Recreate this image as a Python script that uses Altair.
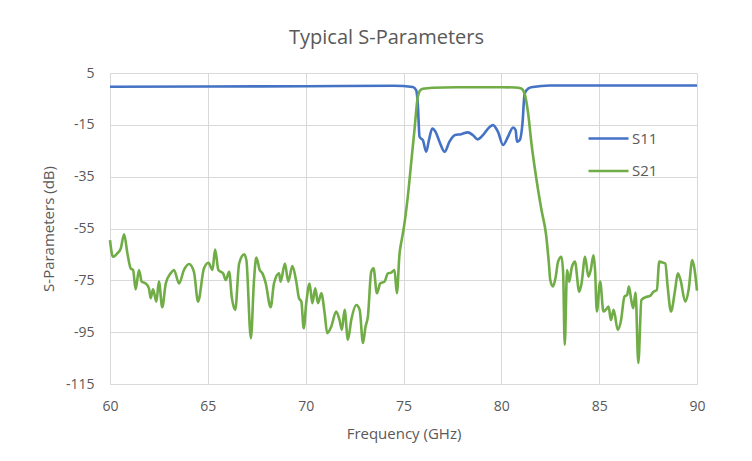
import altair as alt
import pandas as pd

# S21 (GHz, dB)
s21_f = [60.0, 60.15, 60.37, 60.55, 60.72, 60.89, 61.06, 61.18, 61.31, 61.48, 61.62, 61.82, 61.99, 62.08, 62.2,
         62.37, 62.5, 62.67, 62.85, 63.1, 63.27, 63.53, 63.78, 64.04, 64.29, 64.5, 64.8, 65.03, 65.24, 65.37,
         65.54, 65.78, 65.92, 66.09, 66.22, 66.4, 66.6, 66.86, 66.97, 67.2, 67.36, 67.48, 67.65, 67.79, 67.96,
         68.21, 68.38, 68.64, 68.72, 68.94, 69.11, 69.32, 69.52, 69.66, 69.78, 69.9, 70.03, 70.2, 70.34, 70.49,
         70.63, 70.8, 70.97, 71.1, 71.31, 71.56, 71.73, 71.85, 71.99, 72.16, 72.33, 72.59, 72.76, 72.93, 73.06,
         73.18, 73.35, 73.47, 73.64, 73.81, 74.03, 74.2, 74.37, 74.54, 74.66, 74.8, 74.88, 75.0, 75.22, 75.39,
         75.56, 75.73, 75.85, 75.99, 76.5, 77.7, 79.0, 80.0, 80.7, 81.02, 81.19, 81.37, 81.54, 81.8, 82.05,
         82.29, 82.43, 82.5, 82.64, 82.78, 82.9, 83.07, 83.16, 83.24, 83.36, 83.47, 83.59, 83.76, 83.98, 84.1,
         84.28, 84.45, 84.57, 84.71, 84.79, 84.88, 85.05, 85.22, 85.4, 85.48, 85.6, 85.74, 85.95, 86.12, 86.29,
         86.43, 86.52, 86.64, 86.74, 86.86, 87.0, 87.16, 87.38, 87.6, 87.78, 87.95, 88.07, 88.24, 88.38, 88.5,
         88.67, 88.88, 89.02, 89.16, 89.4, 89.57, 89.76, 89.88, 90.0]
s21_db = [-59.5, -65.9, -64.6, -62.7, -57.2, -64.6, -70.4, -71.0, -78.5, -71.0, -75.5, -76.2, -78.1, -81.9, -78.5,
          -83.2, -75.5, -85.4, -76.2, -72.3, -71.0, -76.2, -71.0, -68.7, -71.7, -83.2, -70.4, -68.2, -71.0, -63.1,
          -71.0, -72.3, -74.9, -71.7, -81.3, -86.4, -68.5, -65.0, -67.2, -97.3, -74.9, -66.2, -71.0, -72.3, -76.2,
          -85.4, -76.2, -72.3, -75.5, -68.5, -75.5, -69.5, -75.5, -81.9, -83.2, -93.5, -83.8, -76.2, -83.8, -78.1,
          -83.8, -80.0, -87.7, -95.4, -92.8, -87.0, -90.3, -94.1, -86.4, -97.9, -90.3, -84.5, -86.4, -99.2, -92.8,
          -89.0, -71.7, -70.4, -80.0, -76.2, -75.5, -72.3, -72.0, -71.0, -80.0, -64.5, -60.6, -55.5, -42.7, -29.9,
          -17.0, -4.2, -1.7, -1.1, -0.7, -0.5, -0.5, -0.5, -0.6, -1.0, -3.0, -10.6, -22.2, -36.3, -47.8,
          -57.6, -68.5, -74.9, -77.4, -73.6, -67.8, -65.9, -72.3, -99.9, -71.0, -75.5, -70.4, -67.8, -79.4, -76.2,
          -65.9, -73.6, -71.0, -65.3, -71.0, -87.0, -75.5, -87.0, -85.8, -85.1, -90.3, -86.4, -94.1, -90.3, -81.3,
          -80.6, -77.4, -82.6, -85.8, -79.7, -106.9, -82.6, -81.5, -81.0, -79.4, -78.7, -67.8, -68.1, -68.5, -77.4,
          -87.0, -78.7, -72.3, -74.9, -83.2, -78.7, -67.2, -71.0, -79.0]

# S11 (GHz, dB)
s11_f = [60.0, 65.0, 70.0, 74.5, 75.48, 75.65, 75.73, 75.82, 75.9, 75.99, 76.16, 76.3, 76.47, 76.64, 76.84,
         77.1, 77.35, 77.61, 77.95, 78.29, 78.55, 78.8, 79.06, 79.4, 79.57, 79.83, 80.09, 80.34, 80.6, 80.73,
         80.8, 80.94, 81.08, 81.19, 81.37, 81.62, 82.47, 86.0, 90.0]
s11_db = [-0.3, -0.2, -0.1, 0.1, -0.4, -1.7, -6.8, -19.6, -20.3, -20.9, -25.4, -20.9, -16.4, -17.7, -21.5,
          -25.4, -21.5, -19.0, -18.6, -17.9, -19.0, -20.6, -19.0, -15.8, -15.1, -17.7, -22.8, -19.6, -16.0, -17.0,
          -21.5, -20.9, -14.5, -3.0, -1.0, -0.4, 0.2, 0.2, 0.2]

x_ticks = [60, 65, 70, 75, 80, 85, 90]
y_ticks = [5, -15, -35, -55, -75, -95, -115]

df = pd.concat([
    pd.DataFrame({"f": s11_f, "db": s11_db, "s": "S11"}),
    pd.DataFrame({"f": s21_f, "db": s21_db, "s": "S21"}),
])

FONT = "Open Sans"
GRAY = "#595959"

chart = alt.Chart(df).mark_line(strokeWidth=2.6, interpolate="monotone").encode(
    x=alt.X("f:Q", title="Frequency (GHz)",
            scale=alt.Scale(domain=[60, 90], nice=False, zero=False),
            axis=alt.Axis(values=x_ticks, labelPadding=15, titlePadding=13, labelFlush=False)),
    y=alt.Y("db:Q", title="S-Parameters (dB)",
            scale=alt.Scale(domain=[-115, 5], nice=False, zero=False),
            axis=alt.Axis(values=y_ticks, labelPadding=16, titlePadding=9, labelFlush=False,
                          labelExpr="datum.value < 0 ? '-' + abs(datum.value) : '' + datum.value")),
    color=alt.Color("s:N", title=None,
                    scale=alt.Scale(domain=["S11", "S21"], range=["#4472C4", "#70AD47"]),
                    legend=alt.Legend(orient="none", legendX=477, legendY=44, symbolType="stroke",
                                      symbolSize=1600, symbolStrokeWidth=2.6, rowPadding=2.5,
                                      labelFontSize=15, labelColor=GRAY, labelFont=FONT, labelOffset=2)),
).properties(
    width=587, height=311,
    title=alt.TitleParams("Typical S-Parameters", fontSize=20, font=FONT, color=GRAY,
                          fontWeight="normal", offset=18, dx=-17),
    autosize=alt.AutoSizeParams(type="none"),
    padding={"left": 102, "top": 65, "right": 40, "bottom": 60},
).configure_axis(
    gridColor="#d9d9d9", domain=False, ticks=False, labelColor=GRAY, titleColor=GRAY,
    labelFont=FONT, titleFont=FONT, labelFontSize=14, titleFontSize=15, titleFontWeight="normal",
).configure_axisY(domain=True, domainColor="#d9d9d9").configure_view(stroke=None)

chart.save("out.html", embed_options={"renderer": "svg", "actions": False})
